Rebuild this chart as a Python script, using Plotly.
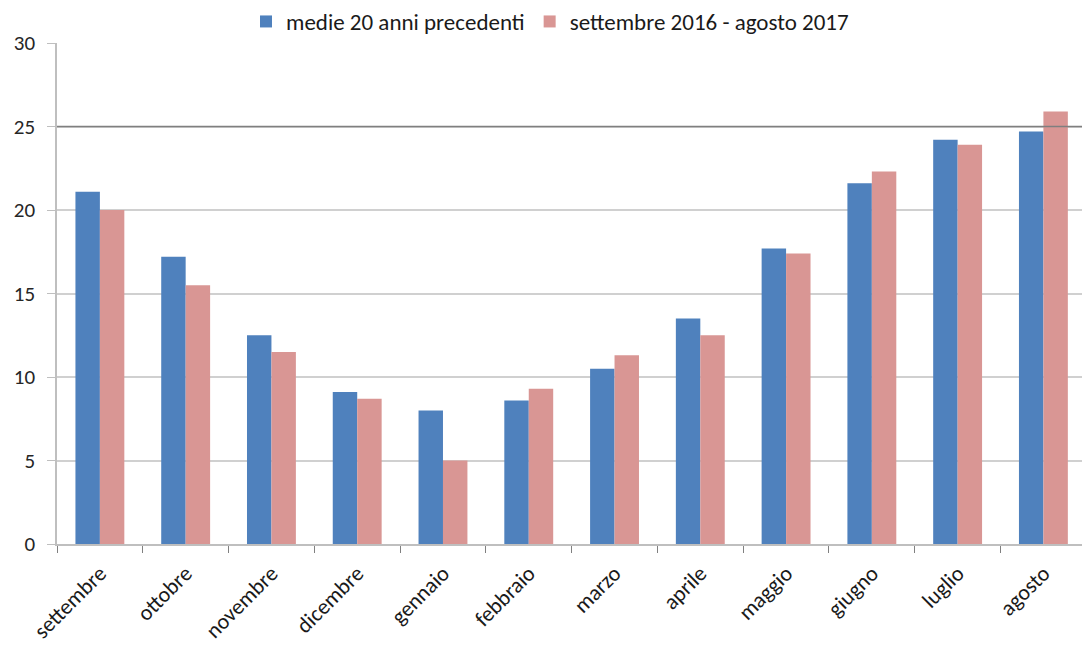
import plotly.graph_objects as go

# Monthly mean temperatures (°C)
mesi = ["settembre", "ottobre", "novembre", "dicembre", "gennaio", "febbraio",
        "marzo", "aprile", "maggio", "giugno", "luglio", "agosto"]
medie_20_anni = [21.1, 17.2, 12.5, 9.1, 8.0, 8.6, 10.5, 13.5, 17.7, 21.6, 24.2, 24.7]
stagione_2016_2017 = [20.0, 15.5, 11.5, 8.7, 5.0, 9.3, 11.3, 12.5, 17.4, 22.3, 23.9, 25.9]

nomi_serie = ["medie 20 anni precedenti", "settembre 2016 - agosto 2017"]
colori = ["#4F81BD", "#D99694"]
y_ticks = [0, 5, 10, 15, 20, 25, 30]
linea_riferimento = 25

FONT = "Carlito, Calibri, 'Liberation Sans Narrow', 'Open Sans', sans-serif"

fig = go.Figure()
for nome, valori, colore in zip(nomi_serie, [medie_20_anni, stagione_2016_2017], colori):
    fig.add_trace(go.Bar(
        x=mesi, y=valori, name=nome,
        marker=dict(color=colore, line=dict(width=0)),
    ))

fig.add_shape(
    type="line", xref="paper", yref="y",
    x0=0, x1=1, y0=linea_riferimento, y1=linea_riferimento,
    line=dict(color="#7f7f7f", width=1.5), layer="above",
)

fig.update_layout(
    width=1082, height=646,
    margin=dict(l=57, r=0, t=43, b=102),
    paper_bgcolor="white", plot_bgcolor="white",
    barmode="group", bargap=0.43, bargroupgap=0,
    font=dict(family=FONT, size=20, color="#262626"),
    legend=dict(
        orientation="h", x=0.481, xanchor="center", y=1.0, yanchor="bottom",
        font=dict(size=23, color="#1a1a1a"), itemwidth=30,
        traceorder="normal", bgcolor="rgba(0,0,0,0)",
    ),
    showlegend=True,
)

fig.update_xaxes(
    type="category", range=[-0.5, 11.45],
    showgrid=False, showline=True, linecolor="#bfbfbf", linewidth=1.5,
    ticks="outside", tickson="boundaries", ticklen=7, tickcolor="#808080",
    ticklabelstandoff=6,
    tickangle=-45, tickfont=dict(size=22, color="#1a1a1a"),
)
fig.update_yaxes(
    range=[0, 30], tickvals=y_ticks,
    showgrid=True, gridcolor="#d0d0d0", gridwidth=1.5,
    showline=True, linecolor="#bfbfbf", linewidth=1.5,
    ticks="outside", ticklen=8, tickcolor="#bfbfbf", ticklabelstandoff=8,
    tickfont=dict(size=21, color="#262626"), zeroline=False,
)

fig.write_html("out.html")
